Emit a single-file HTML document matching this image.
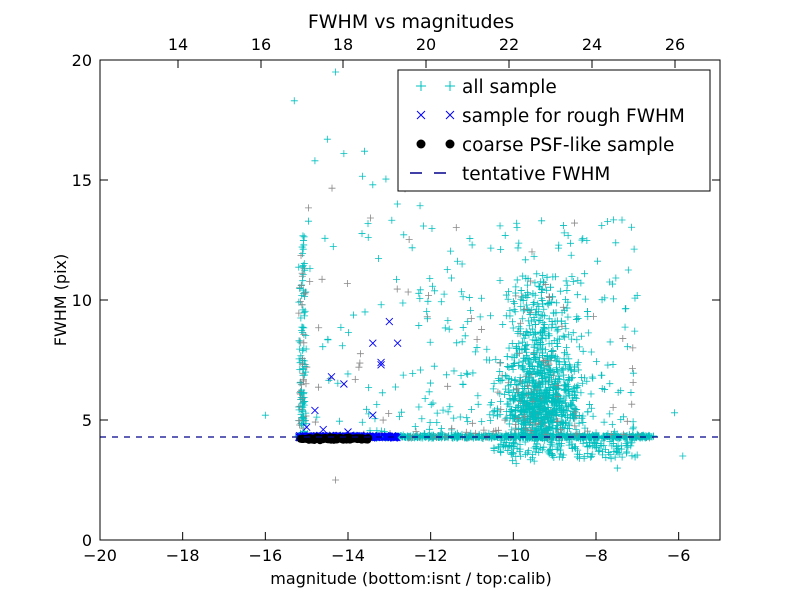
<!DOCTYPE html>
<html><head><meta charset="utf-8"><style>
body{margin:0;background:#fff;}
svg text{font-family:"DejaVu Sans","Liberation Sans",sans-serif;}
</style></head><body>
<svg id="s" width="800" height="600" xmlns="http://www.w3.org/2000/svg">
<rect width="800" height="600" fill="#fff"/>
<g id="pts"></g>
<line x1="100" y1="437" x2="720" y2="437" stroke="#00008b" stroke-width="1.2" stroke-dasharray="6,6"/>
<rect x="100" y="60" width="620" height="480" fill="none" stroke="#000" stroke-width="1"/>
<g id="ticks" stroke="#000"></g>
<g font-size="16" fill="#000" id="labels"></g>
<text x="411" y="28" font-size="19" text-anchor="middle">FWHM vs magnitudes</text>
<text x="411" y="584" font-size="16" text-anchor="middle">magnitude (bottom:isnt / top:calib)</text>
<text x="66" y="300" font-size="16" text-anchor="middle" transform="rotate(-90 66 300)">FWHM (pix)</text>
<rect x="398" y="70" width="312" height="121" fill="#fff" stroke="#000"/>
<g stroke-width="1">
<path d="M416 86h10M421 81v10M445 86h10M450 81v10" stroke="#00bfbf"/>
<path d="M417 111l8 8M425 111l-8 8M446 111l8 8M454 111l-8 8" stroke="#0000ff"/>
<circle cx="421" cy="144" r="4.5" fill="#000"/><circle cx="450" cy="144" r="4.5" fill="#000"/>
<path d="M410 173h12M434 173h12" stroke="#00008b" stroke-width="1.5"/>
</g>
<g font-size="18.5"><text x="462" y="93">all sample</text><text x="462" y="122">sample for rough FWHM</text><text x="462" y="151">coarse PSF-like sample</text><text x="462" y="180">tentative FWHM</text></g>
</svg>
<script>
var s=12345;
function r(){s=(s*1103515245+12345)%2147483648;return s/2147483648;}
function g(){return (r()+r()+r()+r()-2)/1.15;}
function X(x){return 100+(x+20)*41.333;}function Y(y){return 540-y*24;}
var P=document.getElementById("pts"),h="";
function plus(x,y,c){var a=X(x),b=Y(y);if(a<100||a>720||b<60||b>540)return;h+='<path d="M'+(a-3.5)+' '+b+'h7M'+a+' '+(b-3.5)+'v7" stroke="'+c+'" stroke-width="0.8" fill="none"/>';}
function cr(x,y){var a=X(x),b=Y(y);h+='<path d="M'+(a-3.5)+' '+(b-3.5)+'l7 7M'+(a+3.5)+' '+(b-3.5)+'l-7 7" stroke="#0000ff" stroke-width="0.9" fill="none"/>';}
function col(p){return r()<p?"#888":"#00bfbf";}
var i,x,y;
for(i=0;i<900;i++){x=-15.2+r()*8.6;y=4.3+g()*0.06;plus(x,y,col(0.08));}
for(i=0;i<1100;i++){x=-9.3+g()*0.9;y=5.4+Math.abs(g())*2.2*(r()<0.6?1:-0.5);if(r()<0.3)y+=r()*5;plus(x,y,col(0.05));}
for(i=0;i<300;i++){x=-12.3+r()*5.3;y=4.4+Math.pow(r(),2.2)*9;plus(x,y,col(0.2));}
for(i=0;i<140;i++){x=-15.1+g()*0.1;y=4.3+Math.pow(r(),1.5)*8.5;plus(x,y,col(0.25));}
for(i=0;i<80;i++){x=-15+r()*3;y=4.4+Math.pow(r(),1.5)*11;plus(x,y,col(0.35));}
plus(-15.3,18.3,"#00bfbf");plus(-14.3,19.5,"#00bfbf");plus(-16,5.2,"#00bfbf");plus(-6.1,5.3,"#00bfbf");plus(-5.9,3.5,"#00bfbf");plus(-14.3,2.5,"#888");
plus(-14.5,16.7,"#00bfbf");plus(-14.1,16.1,"#00bfbf");plus(-13.6,16.2,"#00bfbf");plus(-13.4,14.8,"#00bfbf");plus(-14.8,15.8,"#00bfbf");
for(i=0;i<150;i++){x=-10.5+r()*3.5;y=4.1-Math.abs(g())*0.8;plus(x,y,"#00bfbf");}
for(i=0;i<260;i++){x=-15.2+r()*2.4;cr(x,4.3+g()*0.05);}
var o=[[-15,4.7],[-14.8,5.4],[-14.4,6.8],[-14.1,6.5],[-13.4,8.2],[-13.2,7.3],[-13.2,7.4],[-13,9.1],[-12.8,8.2],[-13.4,5.2],[-14.6,4.6],[-14,4.5]];
o.forEach(function(p){cr(p[0],p[1]);});
for(i=0;i<90;i++){x=-15.2+r()*1.7;y=4.22+g()*0.05;h+='<circle cx="'+X(x)+'" cy="'+Y(y)+'" r="4" fill="#000"/>';}
P.innerHTML=h;
var T="",L="";
[-20,-18,-16,-14,-12,-10,-8,-6].forEach(function(v){var a=X(v);T+='<path d="M'+a+' 540v-8"/>';L+='<text x="'+a+'" y="561" text-anchor="middle">'+(v<0?'\u2212'+(-v):v)+'</text>';});
for(var v=0;v<=20;v+=5){var b=Y(v);T+='<path d="M100 '+b+'h8M720 '+b+'h-8"/>';L+='<text x="92" y="'+(b+6)+'" text-anchor="end">'+v+'</text>';}
[[14,178],[16,261],[18,343],[20,426],[22,509],[24,592],[26,675]].forEach(function(p){T+='<path d="M'+p[1]+' 60v8"/>';L+='<text x="'+p[1]+'" y="50" text-anchor="middle">'+p[0]+'</text>';});
document.getElementById("ticks").innerHTML=T;document.getElementById("labels").innerHTML=L;
</script>
</body></html>
